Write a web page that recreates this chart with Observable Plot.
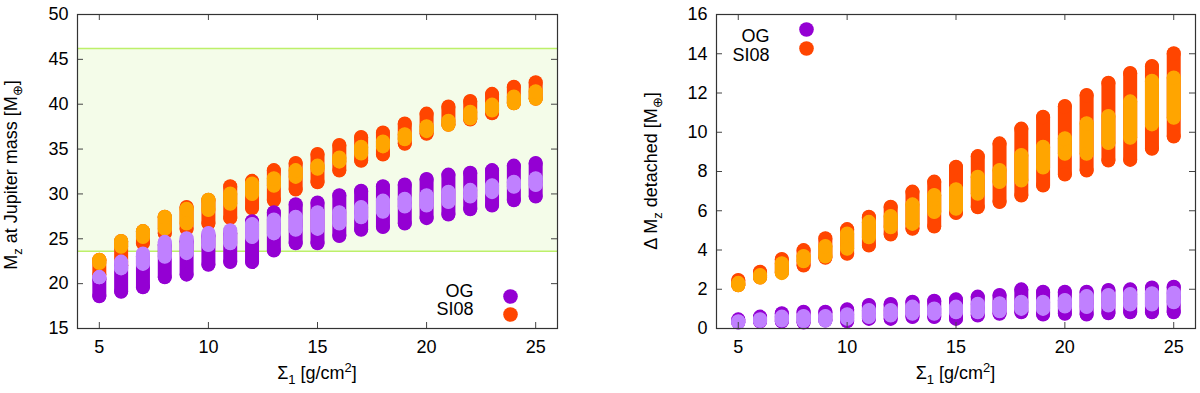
<!DOCTYPE html>
<html><head><meta charset="utf-8">
<script src="https://cdn.jsdelivr.net/npm/d3@7"></script>
<script src="https://cdn.jsdelivr.net/npm/@observablehq/plot@0.6"></script>
<style>
body{margin:0;background:#fff;}
#wrap{display:flex;width:1200px;height:393px;}
</style></head><body><div id="wrap"></div>
<script>
// ---- data ----
const sigma = [5,6,7,8,9,10,11,12,13,14,15,16,17,18,19,20,21,22,23,24,25];
const xTicks = [5,10,15,20,25];

// Left panel: Mz at Jupiter mass
const yTicksL = [15,20,25,30,35,40,45,50];
const bandLimits = [23.6, 46.2];
const siDarkHiL  = [22.6,24.7,25.8,27.4,28.5,29.3,30.8,31.4,32.6,33.4,34.4,35.4,36.3,36.8,37.8,38.9,39.7,40.3,41.1,41.9,42.4];
const siDarkLoL  = [21.0,22.0,24.5,25.6,26.1,26.7,27.3,28.4,29.3,30.5,31.3,32.6,33.7,34.4,35.6,36.7,37.7,38.3,39.0,40.1,40.6];
const siLightHiL = [22.6,24.7,25.8,27.4,28.3,29.3,30.0,31.1,31.7,32.6,33.1,34.0,35.2,35.8,36.6,37.5,38.1,39.1,39.9,40.8,41.4];
const siLightLoL = [22.3,24.1,25.2,26.1,26.7,28.2,28.9,30.0,30.9,31.9,32.8,33.6,34.5,35.3,36.1,37.0,37.7,38.4,39.3,40.1,40.6];
const ogDarkHiL  = [20.5,22.0,23.0,24.3,24.7,25.3,25.6,26.9,27.9,28.8,29.0,29.8,30.3,30.8,31.0,31.6,32.1,32.3,32.6,33.1,33.4];
const ogDarkLoL  = [18.6,19.1,19.6,20.7,21.0,22.1,22.4,22.4,23.7,24.5,24.5,25.3,26.0,26.3,26.7,27.3,27.7,28.3,28.7,29.3,29.7];
const ogLightHiL = [20.7,22.4,23.3,24.6,25.0,25.6,25.9,26.6,27.1,27.4,27.9,27.9,28.5,29.2,29.4,29.8,30.2,30.4,30.9,31.3,31.7];
const ogLightLoL = [20.7,21.7,22.2,23.0,23.4,24.3,24.5,25.2,25.6,26.0,26.1,26.7,27.4,28.0,28.6,28.7,29.1,29.7,30.2,30.8,31.0];

// Right panel: Delta Mz detached
const yTicksR = [0,2,4,6,8,10,12,14,16];
const siDarkHiR  = [2.45,2.87,3.52,3.97,4.57,5.04,5.67,6.18,6.95,7.46,8.22,8.76,9.41,10.16,10.77,11.31,11.87,12.5,13.0,13.35,14.0];
const siDarkLoR  = [2.2,2.6,2.85,3.21,3.6,3.81,4.23,4.79,5.08,5.2,5.88,6.18,6.44,6.78,7.29,7.85,8.05,8.56,8.59,9.16,9.78];
const siLightHiR = [2.3,2.7,3.3,3.67,4.18,4.82,5.41,5.71,6.3,6.78,7.07,7.71,8.05,8.82,9.24,9.67,10.43,10.8,11.55,12.6,12.77];
const siLightLoR = [2.2,2.6,2.82,3.43,3.67,4.06,4.65,5.16,5.33,5.93,6.1,6.86,7.46,7.54,8.2,8.9,8.9,9.45,9.72,10.4,10.74];
const ogDarkHiR  = [0.44,0.58,0.75,0.83,0.83,0.95,1.17,1.22,1.34,1.39,1.46,1.6,1.68,1.97,1.85,1.85,1.85,1.94,1.97,2.07,2.1];
const ogDarkLoR  = [0.3,0.35,0.35,0.3,0.41,0.37,0.49,0.49,0.58,0.58,0.49,0.66,0.75,0.83,0.71,0.75,0.71,0.78,0.83,0.83,0.83];
const ogLightHiR = [0.35,0.45,0.58,0.61,0.61,0.7,0.92,0.92,1.09,1.0,1.09,1.24,1.26,1.34,1.34,1.43,1.63,1.68,1.73,1.77,1.8];
const ogLightLoR = [0.3,0.38,0.41,0.37,0.4,0.49,0.58,0.66,0.75,0.75,0.83,0.83,0.88,1.0,1.0,1.12,1.09,1.17,1.22,1.22,1.34];

const legendLabels = ["OG", "SI08"];

// ---- styles ----
const C = {ogDark:"#9400d3", ogLight:"#c080ff", siDark:"#ff4500", siLight:"#ffa500",
           bandFill:"#f4fce9", bandLine:"#bdf06a", frame:"#333", tick:"#444"};
const R = 7;
const FS = 18, FSS = 13;
const FONT = "'Liberation Sans', Arial, Helvetica, sans-serif";

function columns(lo, hi, color) {
  return [
    Plot.ruleX(sigma, {x: d => d, y1: lo, y2: hi, stroke: color, strokeWidth: 2*R, strokeLinecap: "round"}),
    Plot.dot(sigma, {x: d => d, y: lo, r: R, fill: color}),
    Plot.dot(sigma, {x: d => d, y: hi, r: R, fill: color})
  ];
}

function panel(cfg) {
  const W = 600, H = 393;
  const iw = W - cfg.ml - cfg.mr, ih = H - cfg.mt - cfg.mb;
  const marks = [];
  if (cfg.band) {
    marks.push(Plot.rect([cfg.band], {y1: d => d[0], y2: d => d[1], fill: C.bandFill}));
    marks.push(Plot.ruleY(cfg.band, {stroke: C.bandLine, strokeWidth: 1.5}));
  }
  marks.push(...columns(cfg.d.siDarkLo, cfg.d.siDarkHi, C.siDark));
  marks.push(...columns(cfg.d.siLightLo, cfg.d.siLightHi, C.siLight));
  marks.push(...columns(cfg.d.ogDarkLo, cfg.d.ogDarkHi, C.ogDark));
  marks.push(...columns(cfg.d.ogLightLo, cfg.d.ogLightHi, C.ogLight));
  // inward ticks on all four sides
  marks.push(Plot.tickY(cfg.yTicks, {y: d => d, insetRight: iw - 6, stroke: C.tick}));
  marks.push(Plot.tickY(cfg.yTicks, {y: d => d, insetLeft: iw - 6, stroke: C.tick}));
  marks.push(Plot.tickX(xTicks, {x: d => d, insetBottom: ih - 6, stroke: C.tick}));
  marks.push(Plot.tickX(xTicks, {x: d => d, insetTop: ih - 6, stroke: C.tick}));
  marks.push(Plot.frame({stroke: C.frame, strokeWidth: 1.2}));
  marks.push(Plot.axisX(xTicks, {tickSize: 0, tickPadding: 12, label: null, fontSize: FS}));
  marks.push(Plot.axisY(cfg.yTicks, {tickSize: 0, tickPadding: 9, label: null, fontSize: FS}));
  // legend
  const L = cfg.legend;
  [C.ogDark, C.siDark].forEach((c, i) => {
    marks.push(Plot.dot([legendLabels[i]], {x: null, y: null, frameAnchor: L.anchor, dx: L.dotDx, dy: L.dy[i], r: 7.3, fill: c}));
    marks.push(Plot.text([legendLabels[i]], {x: null, y: null, text: d => d, frameAnchor: L.anchor, dx: L.textDx, dy: L.dy[i], textAnchor: "end", fontSize: FS, fill: "#000"}));
  });
  const svg = Plot.plot({
    width: W, height: H,
    marginLeft: cfg.ml, marginRight: cfg.mr, marginTop: cfg.mt, marginBottom: cfg.mb,
    x: {domain: [4, 26]},
    y: {domain: cfg.yDomain},
    style: {fontFamily: FONT, fontSize: FS + "px", color: "#000", background: "white", overflow: "visible"},
    marks
  });
  const s = d3.select(svg);
  // y label with subscripts
  const yl = s.append("text")
    .attr("transform", `translate(${cfg.ylx},${cfg.yly}) rotate(-90)`)
    .attr("text-anchor", "middle").attr("font-family", FONT).attr("font-size", FS).attr("fill", "#000");
  cfg.ylabel.forEach(([t, sub]) => {
    const ts = yl.append("tspan").text(t);
    if (sub === 1) ts.attr("dy", 5).attr("font-size", FSS);
    if (sub === -1) ts.attr("dy", -5);
  });
  // x label
  const xl = s.append("text")
    .attr("x", cfg.ml + iw / 2).attr("y", 379)
    .attr("text-anchor", "middle").attr("font-family", FONT).attr("font-size", FS).attr("fill", "#000");
  xl.append("tspan").text("Σ");
  xl.append("tspan").text("1").attr("dy", 5).attr("font-size", FSS);
  xl.append("tspan").text(" [g/cm").attr("dy", -5);
  xl.append("tspan").text("2").attr("dy", -7).attr("font-size", FSS);
  xl.append("tspan").text("]").attr("dy", 7);
  return svg;
}

const wrap = document.getElementById("wrap");
wrap.append(panel({
  ml: 77, mr: 43, mt: 14, mb: 65, yDomain: [15, 50], yTicks: yTicksL, band: bandLimits,
  d: {siDarkLo: siDarkLoL, siDarkHi: siDarkHiL, siLightLo: siLightLoL, siLightHi: siLightHiL,
      ogDarkLo: ogDarkLoL, ogDarkHi: ogDarkHiL, ogLightLo: ogLightLoL, ogLightHi: ogLightHiL},
  legend: {anchor: "bottom-right", dotDx: -47, textDx: -84, dy: [-32, -14]},
  ylx: 17, yly: 175,
  ylabel: [["M",0],["z",1],[" at Jupiter mass [M",-1],["⊕",1],["]",-1]]
}));
wrap.append(panel({
  ml: 116, mr: 5, mt: 14, mb: 65, yDomain: [0, 16], yTicks: yTicksR, band: null,
  d: {siDarkLo: siDarkLoR, siDarkHi: siDarkHiR, siLightLo: siLightLoR, siLightHi: siLightHiR,
      ogDarkLo: ogDarkLoR, ogDarkHi: ogDarkHiR, ogLightLo: ogLightLoR, ogLightHi: ogLightHiR},
  legend: {anchor: "top-left", dotDx: 90, textDx: 53, dy: [15, 34]},
  ylx: 57, yly: 171,
  ylabel: [["Δ M",0],["z",1],[" detached [M",-1],["⊕",1],["]",-1]]
}));
</script></body></html>
